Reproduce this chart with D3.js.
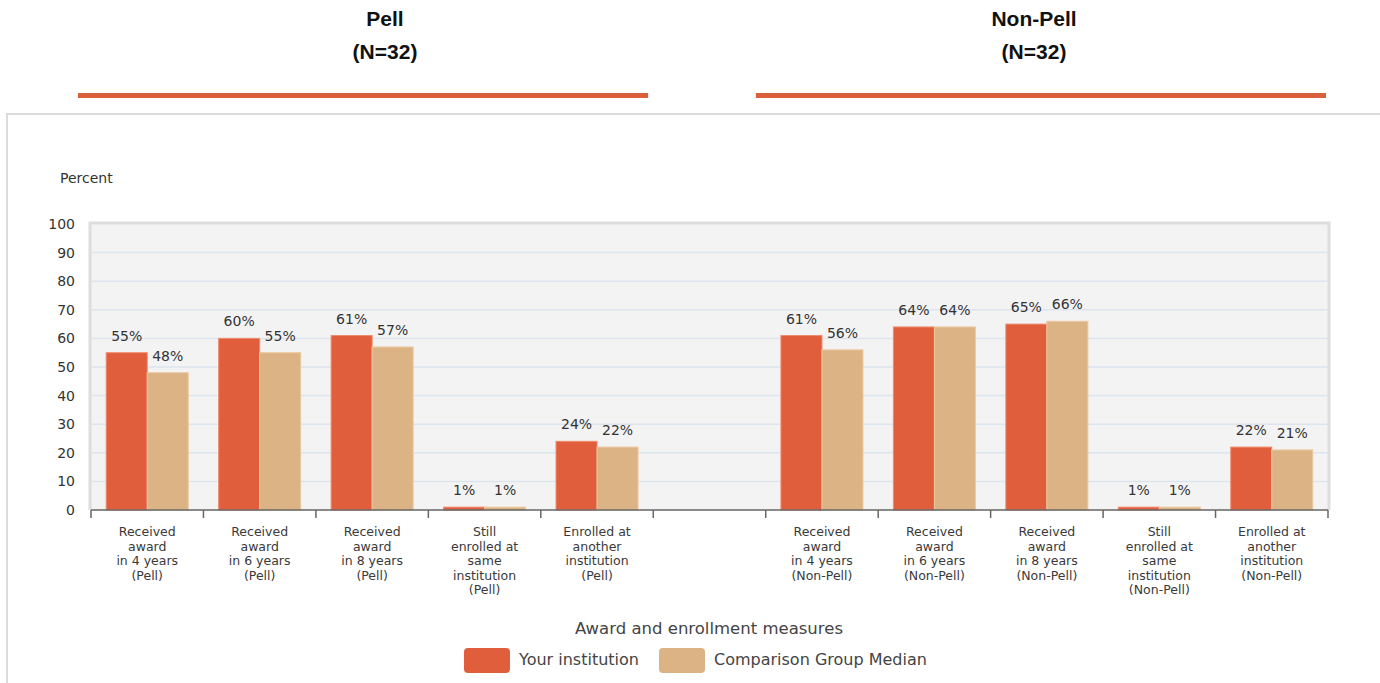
<!DOCTYPE html>
<html>
<head>
  <meta charset="utf-8">
  <script src="https://d3js.org/d3.v7.min.js"></script>
  <style>
    body { margin: 0; background: #fff; }
    svg { display: block; }
  </style>
</head>
<body>
<svg id="chart" width="1380" height="683"></svg>
<script>
  // categories (one empty slot between the two groups)
  var categories = ["p4", "p6", "p8", "pStill", "pOther", "gap", "n4", "n6", "n8", "nStill", "nOther"];
  var tickLabels = [
    ["Received", "award", "in 4 years", "(Pell)"],
    ["Received", "award", "in 6 years", "(Pell)"],
    ["Received", "award", "in 8 years", "(Pell)"],
    ["Still", "enrolled at", "same", "institution", "(Pell)"],
    ["Enrolled at", "another", "institution", "(Pell)"],
    [],
    ["Received", "award", "in 4 years", "(Non-Pell)"],
    ["Received", "award", "in 6 years", "(Non-Pell)"],
    ["Received", "award", "in 8 years", "(Non-Pell)"],
    ["Still", "enrolled at", "same", "institution", "(Non-Pell)"],
    ["Enrolled at", "another", "institution", "(Non-Pell)"]
  ];
  var yourInstitution = [55, 60, 61, 1, 24, null, 61, 64, 65, 1, 22];
  var comparisonMedian = [48, 55, 57, 1, 22, null, 56, 64, 66, 1, 21];
  var seriesNames = ["Your institution", "Comparison Group Median"];
  var seriesColors = ["#e05e3c", "#dcb384"];
  var yTicks = [0, 10, 20, 30, 40, 50, 60, 70, 80, 90, 100];
  var headerTitles = ["Pell", "Non-Pell"];
  var headerN = ["(N=32)", "(N=32)"];

  var svg = d3.select("#chart");
  var sans = "Arial, 'Liberation Sans', sans-serif";
  var dv = "'DejaVu Sans', Verdana, sans-serif";

  // headers with underline
  var headerX = d3.scaleBand().domain([0, 1]).range([78, 1326]).paddingInner(0.159);
  var titleCx = [385, 1034];
  headerTitles.forEach(function(h, i) {
    svg.append("text").attr("x", titleCx[i]).attr("y", 26).attr("text-anchor", "middle")
      .style("font-family", sans).style("font-weight", "bold")
      .style("font-size", "21px").attr("fill", "#111").text(h);
    svg.append("text").attr("x", titleCx[i]).attr("y", 59).attr("text-anchor", "middle")
      .style("font-family", sans).style("font-weight", "bold")
      .style("font-size", "21px").attr("fill", "#111").text(headerN[i]);
    svg.append("rect").attr("x", headerX(i)).attr("y", 93)
      .attr("width", headerX.bandwidth()).attr("height", 5).attr("fill", "#d9603b");
  });

  // outer frame
  svg.append("path").attr("d", "M7,690 V114 H1390")
    .attr("fill", "none").attr("stroke", "#dcdcdc").attr("stroke-width", 2);

  var pLeft = 91, pRight = 1328, pTop = 224, pBottom = 510;

  var y = d3.scaleLinear().domain([0, 100]).range([pBottom, pTop]);
  var x0 = d3.scaleBand().domain(categories).range([pLeft, pRight]);
  var x1 = d3.scaleBand().domain([0, 1]).range([0, x0.bandwidth()]).paddingOuter(0.371);

  // plot background
  svg.append("rect").attr("x", pLeft).attr("y", pTop).attr("width", pRight - pLeft).attr("height", pBottom - pTop)
    .attr("fill", "#f4f3f3");
  svg.append("path").attr("d", "M" + (pLeft - 1) + "," + pBottom + " V" + (pTop - 1) + " H" + (pRight + 1) + " V" + pBottom)
    .attr("fill", "none").attr("stroke", "#dddddd").attr("stroke-width", 3);

  // grid
  svg.append("g").selectAll("line").data(yTicks.filter(function(d) { return d > 0 && d < 100; }))
    .enter().append("line")
    .attr("x1", pLeft).attr("x2", pRight)
    .attr("y1", function(d) { return y(d); }).attr("y2", function(d) { return y(d); })
    .attr("stroke", "#dce5ef").attr("stroke-width", 1.5);

  // y tick labels
  svg.append("g").selectAll("text").data(yTicks).enter().append("text")
    .attr("x", 75).attr("y", function(d) { return y(d) + 5; })
    .attr("text-anchor", "end")
    .style("font-family", dv).style("font-size", "14px")
    .attr("fill", "#333").text(function(d) { return d; });

  svg.append("text").attr("x", 60).attr("y", 183)
    .style("font-family", dv).style("font-size", "14px")
    .attr("fill", "#333").text("Percent");

  // bars
  var rows = categories.map(function(c, i) {
    return { cat: c, vals: [yourInstitution[i], comparisonMedian[i]] };
  }).filter(function(r) { return r.vals[0] !== null; });

  var groups = svg.append("g").selectAll("g").data(rows).enter().append("g")
    .attr("transform", function(d) { return "translate(" + x0(d.cat) + ",0)"; });

  groups.selectAll("rect").data(function(d) { return d.vals; }).enter().append("rect")
    .attr("x", function(d, i) { return x1(i); })
    .attr("y", function(d) { return y(d); })
    .attr("width", x1.bandwidth())
    .attr("height", function(d) { return pBottom - y(d); })
    .attr("fill", function(d, i) { return seriesColors[i]; })
    .attr("stroke", function(d, i) { return i === 0 ? "#ef8a6c" : "#ecc9a0"; })
    .attr("stroke-width", 1);

  groups.selectAll("text").data(function(d) { return d.vals; }).enter().append("text")
    .attr("x", function(d, i) { return x1(i) + x1.bandwidth() / 2; })
    .attr("y", function(d) { return y(d) - 12; })
    .attr("text-anchor", "middle")
    .style("font-family", dv).style("font-size", "14px")
    .attr("fill", "#333").text(function(d) { return d + "%"; });

  // x axis
  svg.append("line").attr("x1", pLeft).attr("x2", pRight).attr("y1", pBottom).attr("y2", pBottom)
    .attr("stroke", "#666").attr("stroke-width", 1.5);
  var tickPos = categories.map(function(c) { return x0(c); }).concat([pRight]);
  svg.append("g").selectAll("line").data(tickPos).enter().append("line")
    .attr("x1", function(d) { return d; }).attr("x2", function(d) { return d; })
    .attr("y1", pBottom).attr("y2", pBottom + 8)
    .attr("stroke", "#666").attr("stroke-width", 1.5);

  var labelG = svg.append("g").selectAll("text").data(categories).enter().append("text")
    .attr("y", 536)
    .attr("text-anchor", "middle")
    .style("font-family", dv).style("font-size", "12.5px")
    .attr("fill", "#3a3a3a");
  labelG.each(function(c, i) {
    var t = d3.select(this);
    var cx = x0(c) + x0.bandwidth() / 2;
    tickLabels[i].forEach(function(line, j) {
      t.append("tspan").attr("x", cx).attr("dy", j === 0 ? 0 : 14.5).text(line);
    });
  });

  // axis title
  svg.append("text").attr("x", 709).attr("y", 634).attr("text-anchor", "middle")
    .style("font-family", dv).style("font-size", "16.5px")
    .attr("fill", "#444").text("Award and enrollment measures");

  // legend
  var legendX = [464, 659];
  var legend = svg.append("g").selectAll("g").data(seriesNames).enter().append("g")
    .attr("transform", function(d, i) { return "translate(" + legendX[i] + ",648)"; });
  legend.append("rect").attr("width", 46).attr("height", 25).attr("rx", 4)
    .attr("fill", function(d, i) { return seriesColors[i]; });
  legend.append("text").attr("x", 55).attr("y", 17)
    .style("font-family", dv).style("font-size", "16px")
    .attr("fill", "#444").text(function(d) { return d; });
</script>
</body>
</html>
